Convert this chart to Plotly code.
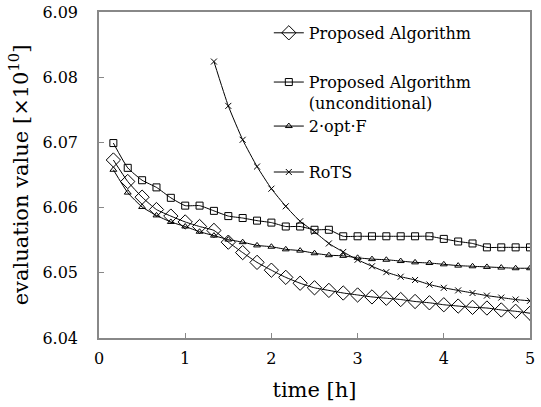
import plotly.graph_objects as go

time_h = [k / 6 for k in range(1, 31)]

proposed = [6.0673, 6.0640, 6.0616, 6.0597, 6.0587, 6.0578, 6.0571, 6.0565, 6.0547, 6.0531,
            6.0516, 6.0504, 6.0493, 6.0484, 6.0477, 6.0473, 6.0469, 6.0466, 6.0463, 6.0461,
            6.0459, 6.0456, 6.0454, 6.0451, 6.0449, 6.0447, 6.0446, 6.0443, 6.0441, 6.0438]

proposed_uncond = [6.0699, 6.0661, 6.0642, 6.0631, 6.0615, 6.0603, 6.0603, 6.0595, 6.0587, 6.0584,
                   6.0580, 6.0577, 6.0571, 6.0571, 6.0566, 6.0566, 6.0556, 6.0556, 6.0556, 6.0556,
                   6.0556, 6.0556, 6.0556, 6.0552, 6.0548, 6.0545, 6.0539, 6.0539, 6.0539, 6.0539]

two_opt_f = [6.0658, 6.0623, 6.0601, 6.0588, 6.0578, 6.0571, 6.0563, 6.0557, 6.0551, 6.0547,
             6.0542, 6.0540, 6.0536, 6.0534, 6.0530, 6.0527, 6.0526, 6.0523, 6.0521, 6.0520,
             6.0518, 6.0516, 6.0515, 6.0513, 6.0511, 6.0510, 6.0509, 6.0508, 6.0507, 6.0507]

rots_time = time_h[7:]
rots = [6.0824, 6.0756, 6.0704, 6.0663, 6.0629, 6.0602, 6.0579, 6.0563, 6.0545, 6.0532,
        6.0520, 6.0510, 6.0501, 6.0494, 6.0489, 6.0482, 6.0477, 6.0473, 6.0469, 6.0465,
        6.0462, 6.0459, 6.0457]

names = ["Proposed Algorithm", "Proposed Algorithm<br>(unconditional)", "2·opt·F", "RoTS"]
x_ticks = [0, 1, 2, 3, 4, 5]
y_ticks = [6.04, 6.05, 6.06, 6.07, 6.08, 6.09]

FONT = "DejaVu Serif"
fig = go.Figure()
series = [
    (time_h, proposed, names[0], "diamond-open", 11),
    (time_h, proposed_uncond, names[1], "square-open", 7),
    (time_h, two_opt_f, names[2], "triangle-up-open", 6),
    (rots_time, rots, names[3], "x-thin-open", 6),
]
legend_ids = ["legend", "legend2", "legend3", "legend4"]
legend_y = [0.988, 0.837, 0.702, 0.561]
for i, (xs, ys, nm, sym, sz) in enumerate(series):
    fig.add_trace(go.Scatter(
        x=xs, y=ys, name=nm, mode="lines+markers", legend=legend_ids[i],
        line=dict(color="black", width=1, shape="spline", smoothing=0.5),
        marker=dict(symbol=sym, size=sz, color="black", line=dict(color="black", width=1)),
    ))

legend_common = dict(x=0.394, xanchor="left", yanchor="top", bgcolor="rgba(0,0,0,0)",
                     font=dict(family=FONT, size=16, color="black"), valign="top", itemwidth=30)
leg_layout = {lid: dict(legend_common, y=ly) for lid, ly in zip(legend_ids, legend_y)}

fig.update_layout(
    width=541, height=407,
    margin=dict(l=99, r=11, t=12, b=69),
    paper_bgcolor="white", plot_bgcolor="white",
    font=dict(family=FONT, color="black", size=16),
    showlegend=True,
    **leg_layout,
)
fig.update_xaxes(range=[0, 5], tickvals=x_ticks, ticks="inside", ticklen=5, tickcolor="#888888",
                 showline=True, linecolor="#888888", linewidth=1.5, mirror=True, showgrid=False,
                 zeroline=False, automargin=False, ticklabelstandoff=5,
                 tickfont=dict(family=FONT, size=16, color="black"),
                 title=dict(text="time [h]", font=dict(family=FONT, size=21, color="black"), standoff=15))
fig.update_yaxes(range=[6.04, 6.09], tickvals=y_ticks, tickformat=".2f", ticks="inside", ticklen=5,
                 tickcolor="#888888", showline=True, linecolor="#888888", linewidth=1.5, mirror=True,
                 showgrid=False, zeroline=False, automargin=False, ticklabelstandoff=16,
                 tickfont=dict(family=FONT, size=16, color="black"),
                 title=dict(text="evaluation value [×10<sup>10</sup>]",
                            font=dict(family=FONT, size=21, color="black"), standoff=8))

fig.write_html("out.html", config={"displayModeBar": False},
               post_script="document.body.style.margin='0';")
